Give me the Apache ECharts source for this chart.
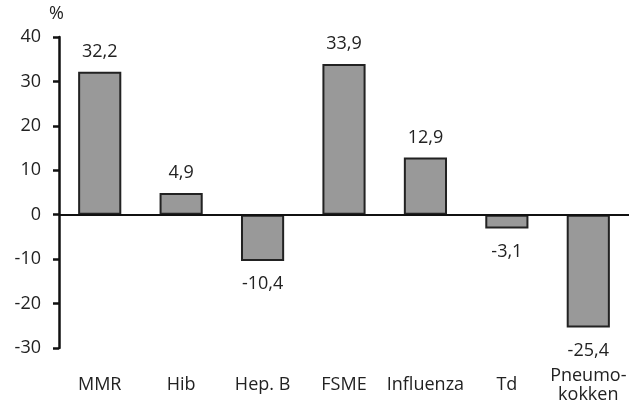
<!DOCTYPE html>
<html><head><meta charset="utf-8">
<script src="https://cdn.jsdelivr.net/npm/echarts@6/dist/echarts.min.js"></script>
<style>html,body{margin:0;padding:0;background:#fff}#c{width:643px;height:415px}</style>
</head><body><div id="c"></div>
<script>
var categories = ['MMR', 'Hib', 'Hep. B', 'FSME', 'Influenza', 'Td', 'Pneumo-\nkokken'];
var values = [32.2, 4.9, -10.4, 33.9, 12.9, -3.1, -25.4];
var yTicks = [-30, -20, -10, 0, 10, 20, 30, 40];
var FONT = '"Open Sans", sans-serif';
var FS = 18;
var chart = echarts.init(document.getElementById('c'), null, {renderer: 'canvas'});
var barData = values.map(function (v) {
  return {value: v, label: {position: v < 0 ? 'bottom' : 'top', distance: v < 0 ? 14 : 11}};
});
chart.setOption({
  animation: false,
  backgroundColor: '#fff',
  textStyle: {fontFamily: FONT},
  grid: {left: 59, right: 14, top: 37, bottom: 67, containLabel: false},
  graphic: [{type: 'text', left: 49, top: 5, style: {text: '%', font: FS + 'px ' + FONT, fill: '#222'}}],
  xAxis: {
    type: 'category', data: categories,
    axisLine: {show: false, onZero: false},
    axisTick: {show: false},
    axisLabel: {color: '#222', fontSize: FS, margin: 37, lineHeight: 19, verticalAlign: 'middle', interval: 0, fontFamily: FONT}
  },
  yAxis: {
    type: 'value', min: yTicks[0], max: yTicks[yTicks.length - 1], interval: 10,
    axisLine: {show: true, lineStyle: {color: '#111', width: 2.5}},
    axisTick: {show: true, length: 6, lineStyle: {color: '#111', width: 2.5}},
    axisLabel: {color: '#222', fontSize: FS, margin: 18, fontFamily: FONT},
    splitLine: {show: false}
  },
  series: [{
    type: 'bar', data: barData, barWidth: '53%',
    itemStyle: {color: '#999999', borderColor: '#222', borderWidth: 2},
    label: {
      show: true, color: '#222', fontSize: FS, fontFamily: FONT,
      formatter: function (p) { return String(p.value).replace('.', ','); }
    },
    markLine: {
      silent: true, symbol: 'none', label: {show: false},
      lineStyle: {color: '#111', width: 2, type: 'solid'},
      data: [{yAxis: 0}]
    }
  }]
});
</script></body></html>
